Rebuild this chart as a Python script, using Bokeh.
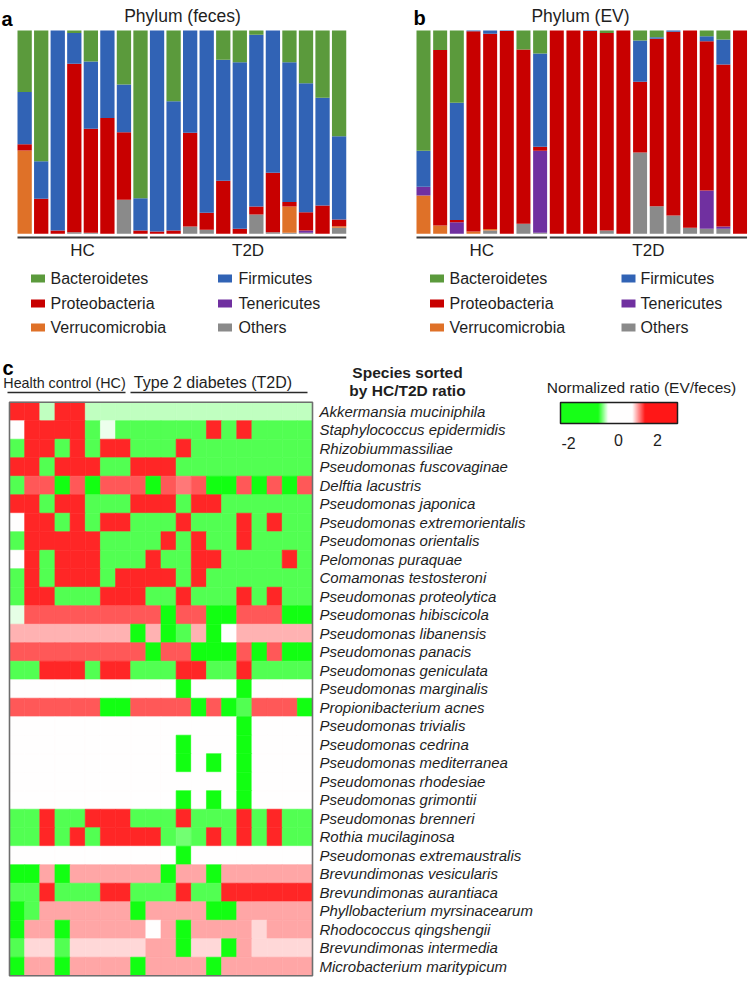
import numpy as np
from bokeh.plotting import figure
from bokeh.models import ColumnDataSource, Range1d, LinearColorMapper
from bokeh.transform import transform
from bokeh.layouts import column, row
from bokeh.embed import file_html
from bokeh.resources import INLINE
from bokeh.core.properties import value

FONT = "Liberation Sans"
TXT = "#1e1e1e"

# ---------------- data: phylum composition (a: feces, b: EV) ----------------
group_names = ["HC", "T2D"]
group_sizes = [8, 12]

legend_col1 = ["Bacteroidetes", "Proteobacteria", "Verrucomicrobia"]
legend_col2 = ["Firmicutes", "Tenericutes", "Others"]
stack_order = ["Others", "Verrucomicrobia", "Tenericutes", "Proteobacteria", "Firmicutes", "Bacteroidetes"]
phylum_colors = {"Bacteroidetes": "#5b9a3c", "Firmicutes": "#3163b5", "Proteobacteria": "#c80000",
                 "Tenericutes": "#7030a0", "Verrucomicrobia": "#df7128", "Others": "#8a8a8a"}

feces_bacteroidetes = [0.303, 0.643, 0, 0.012, 0.152, 0, 0.266, 0.825, 0, 0.348, 0, 0, 0.144, 0.156, 0.021, 0, 0.156, 0.259, 0.331, 0.521]
feces_firmicutes = [0.257, 0.185, 0.984, 0.152, 0.331, 0.43, 0.234, 0.159, 0.989, 0.636, 0.503, 0.896, 0.595, 0.82, 0.844, 0.70, 0.689, 0.634, 0.53, 0.41]
feces_proteobacteria = [0.03, 0.172, 0.016, 0.828, 0.512, 0.57, 0.333, 0.016, 0.011, 0.016, 0.461, 0.084, 0.261, 0.025, 0.039, 0.292, 0.021, 0.09, 0.139, 0.033]
feces_tenericutes = [0, 0, 0, 0, 0, 0, 0, 0, 0, 0, 0, 0, 0, 0, 0, 0, 0, 0.011, 0, 0]
feces_verrucomicrobia = [0.41, 0, 0, 0, 0, 0, 0, 0, 0, 0, 0, 0, 0, 0, 0, 0, 0.13, 0, 0, 0.007]
feces_others = [0, 0, 0, 0.008, 0.005, 0, 0.167, 0, 0, 0, 0.036, 0.02, 0, 0, 0.095, 0.008, 0.005, 0.005, 0, 0.03]

ev_bacteroidetes = [0.592, 0.096, 0.355, 0, 0, 0, 0.093, 0.113, 0, 0, 0, 0.012, 0, 0.049, 0.033, 0, 0, 0.028, 0.044, 0]
ev_firmicutes = [0.176, 0, 0.577, 0.004, 0.016, 0.003, 0, 0.459, 0, 0, 0.003, 0, 0, 0.203, 0.008, 0.006, 0, 0.025, 0.123, 0]
ev_proteobacteria = [0, 0.863, 0.011, 0.985, 0.961, 0.997, 0.858, 0.02, 1.0, 1.0, 0.997, 0.972, 1.0, 0.348, 0.824, 0.904, 0.97, 0.735, 0.797, 1.0]
ev_tenericutes = [0.044, 0, 0.057, 0, 0, 0, 0, 0.404, 0, 0, 0, 0, 0, 0, 0, 0, 0, 0.188, 0.011, 0]
ev_verrucomicrobia = [0.188, 0.041, 0, 0.011, 0.007, 0, 0, 0, 0, 0, 0, 0, 0, 0, 0, 0, 0, 0, 0, 0]
ev_others = [0, 0, 0, 0, 0.016, 0, 0.049, 0.005, 0, 0, 0, 0.016, 0, 0.40, 0.136, 0.09, 0.03, 0.025, 0.025, 0]

# ---------------- data: heatmap (normalized ratio EV/feces) ----------------
species = ["Akkermansia muciniphila", "Staphylococcus epidermidis", "Rhizobiummassiliae",
           "Pseudomonas fuscovaginae", "Delftia lacustris", "Pseudomonas japonica",
           "Pseudomonas extremorientalis", "Pseudomonas orientalis", "Pelomonas puraquae",
           "Comamonas testosteroni", "Pseudomonas proteolytica", "Pseudomonas hibiscicola",
           "Pseudomonas libanensis", "Pseudomonas panacis", "Pseudomonas geniculata",
           "Pseudomonas marginalis", "Propionibacterium acnes", "Pseudomonas trivialis",
           "Pseudomonas cedrina", "Pseudomonas mediterranea", "Pseudomonas rhodesiae",
           "Pseudomonas grimontii", "Pseudomonas brenneri", "Rothia mucilaginosa",
           "Pseudomonas extremaustralis", "Brevundimonas vesicularis", "Brevundimonas aurantiaca",
           "Phyllobacterium myrsinacearum", "Rhodococcus qingshengii", "Brevundimonas intermedia",
           "Microbacterium maritypicum"]

r00 = [1.7, 1.7, -0.5, 1.7, 1.7, -0.5, -0.5, -0.5, -0.5, -0.5, -0.5, -0.5, -0.5, -0.5, -0.5, -0.5, -0.5, -0.5, -0.5, -0.5]
r01 = [0, 1.7, 1.7, 1.7, 1.7, -1.35, -0.15, -1.35, -1.35, -1.35, -1.35, -1.35, -1.35, 1.7, -1.35, 1.7, -1.35, -1.35, -1.35, -1.35]
r02 = [-1.35, 1.7, 1.7, -1.35, 1.7, -1.35, 1.7, 1.7, -1.35, -1.35, -1.35, 1.7, -1.35, -1.35, -1.35, -1.35, -1.35, -1.35, -1.35, -1.35]
r03 = [1.7, 1.7, -1.35, 1.7, 1.7, 1.7, -1.35, -1.35, 1.7, 1.7, 1.7, -1.35, -1.35, -1.35, -1.35, -1.35, -1.35, -1.35, -1.35, -1.35]
r04 = [-1.35, 1.3, 1.3, -1.85, 1.3, -1.85, 1.3, 1.3, 1.3, -1.85, 1.3, 1.05, 1.3, -1.85, -1.85, 1.3, -1.85, 1.3, -1.85, 1.3]
r05 = [1.7, 1.7, -1.35, 1.7, 1.7, -1.35, -1.35, -1.35, 1.7, 1.7, 1.7, -1.35, 1.7, 1.7, -1.35, -1.35, -1.35, -1.35, -1.35, -1.35]
r06 = [0, 1.7, 1.7, -1.35, 1.7, -1.35, 1.7, 1.7, -1.35, -1.35, -1.35, 1.7, -1.35, -1.35, -1.35, 1.7, -1.35, 1.7, -1.35, -1.35]
r07 = [-1.35, 1.7, 1.7, 1.7, 1.7, 1.7, -1.35, -1.35, -1.35, -1.35, 1.7, -1.35, 1.7, -1.35, -1.35, 1.7, -1.35, -1.35, -1.35, -1.35]
r08 = [0, 1.7, -1.35, 1.7, 1.7, 1.7, -1.35, -1.35, -1.35, 1.7, -1.35, -1.35, 1.7, 1.7, -1.35, -1.35, -1.35, -1.35, 1.7, -1.35]
r09 = [-1.35, 1.7, -1.35, 1.7, 1.7, 1.7, -1.35, 1.7, 1.7, 1.7, 1.7, -1.35, 1.7, -1.35, -1.35, -1.35, -1.35, -1.35, -1.35, -1.35]
r10 = [-1.35, 1.7, 1.7, -1.35, -1.35, -1.35, 1.7, 1.7, 1.7, -1.35, -1.35, 1.7, -1.35, -1.35, -1.35, 1.7, -1.35, 1.7, -1.35, -1.35]
r11 = [-0.2, 1.3, 1.3, 1.3, 1.3, 1.3, 1.3, 1.3, 1.3, 1.3, -1.85, 1.3, 1.3, -1.85, -1.85, 1.3, 1.3, 1.3, -1.85, -1.85]
r12 = [0.6, 0.6, 0.6, 0.6, 0.6, 0.6, 0.6, 0.6, -1.85, 0.6, -1.85, -1.35, 0.6, -1.85, 0, 0.6, 0.6, 0.6, 0.6, 0.6]
r13 = [1.3, 1.3, 1.3, 1.3, 1.3, 1.3, 1.3, 1.3, 1.3, -1.85, 1.3, 1.3, -1.85, -1.85, -1.85, 1.3, -1.85, 1.3, -1.85, -1.85]
r14 = [-1.35, -1.35, 1.7, 1.7, 1.7, -1.35, 1.7, 1.7, -1.35, -1.35, -1.35, 1.7, 1.7, -1.35, -1.35, 1.7, -1.35, -1.35, -1.35, -1.35]
r15 = [0, 0, 0, 0, 0, 0, 0, 0, 0, 0, 0, -1.85, 0, 0, 0, -1.85, 0, 0, 0, 0]
r16 = [1.3, 1.3, 1.3, 1.3, 1.3, 1.3, -1.85, -1.85, 1.3, 1.3, 1.3, 1.3, -1.85, 1.3, -1.85, -1.35, 1.3, 1.3, 1.3, -1.85]
r17 = [0, 0, 0, 0, 0, 0, 0, 0, 0, 0, 0, 0, 0, 0, 0, -1.85, 0, 0, 0, 0]
r18 = [0, 0, 0, 0, 0, 0, 0, 0, 0, 0, 0, -1.85, 0, 0, 0, -1.85, 0, 0, 0, 0]
r19 = [0, 0, 0, 0, 0, 0, 0, 0, 0, 0, 0, -1.85, 0, -1.85, 0, -1.85, 0, 0, 0, 0]
r20 = [0, 0, 0, 0, 0, 0, 0, 0, 0, 0, 0, 0, 0, 0, 0, -1.85, 0, 0, 0, 0]
r21 = [0, 0, 0, 0, 0, 0, 0, 0, 0, 0, 0, -1.85, 0, -1.85, 0, -1.85, 0, 0, 0, 0]
r22 = [-1.35, -1.35, 1.7, -1.35, -1.35, 1.7, 1.7, 1.7, -1.35, -1.35, -1.35, 1.7, -1.35, -1.35, -1.35, 1.7, -1.35, 1.7, -1.35, -1.35]
r23 = [-1.35, -1.35, 1.7, -1.35, 1.7, -1.35, 1.7, 1.7, 1.7, 1.7, -1.35, -1.1, -1.35, 1.7, -1.35, 1.7, -1.35, 1.7, -1.35, -1.35]
r24 = [0, 0, 0, 0, 0, 0, 0, 0, 0, 0, 0, -1.85, 0, 0, 0, 0, 0, 0, 0, 0]
r25 = [-1.85, -1.85, 0.7, -1.85, 0.7, 0.7, 0.7, 0.7, 0.7, 0.7, -1.85, 0.7, 0.7, -1.85, 0.7, 0.7, 0.7, 0.7, 0.7, 0.7]
r26 = [-1.35, -1.35, 1.7, -1.35, -1.35, -1.35, 1.7, 1.7, -1.35, -1.35, -1.35, 1.7, -1.35, -1.35, 1.7, 1.7, 1.7, 1.7, 1.7, 1.7]
r27 = [-1.85, -1.35, 0.7, 0.7, 0.7, 0.7, 0.7, 0.7, -1.85, 0.7, 0.7, 0.7, 0.7, -1.85, -1.85, 0.7, 0.7, 0.7, 0.7, 0.7]
r28 = [-1.85, 0.7, 0.7, -1.85, 0.7, 0.7, 0.7, 0.7, 0.7, 0, 0.7, -1.85, 0.7, 0.7, 0.7, 0.7, 0.3, 0.7, 0.7, 0.7]
r29 = [-1.35, 0.3, 0.3, -1.35, 0.3, 0.3, 0.3, 0.3, 0.3, 0.7, 0.7, -1.85, 0.3, 0.3, -1.85, 0.7, 0.3, 0.3, 0.3, 0.3]
r30 = [-1.85, 0.7, 0.7, -1.85, 0.7, 0.7, 0.7, 0.7, -1.85, 0.7, 0.7, 0.7, 0.7, -1.85, 0.7, 0.7, 0.7, 0.7, 0.7, 0.7]
ratio_rows = [r00, r01, r02, r03, r04, r05, r06, r07, r08, r09, r10, r11, r12, r13, r14, r15,
              r16, r17, r18, r19, r20, r21, r22, r23, r24, r25, r26, r27, r28, r29, r30]

colorbar_ticks = ["-2", "0", "2"]

# ---------------- colour mapper (green - white - red) ----------------
palette = []
for k in range(256):
    t = k / 255 * 2 - 1
    if t < 0:
        c = int(round(255 * (1 + t)))
        palette.append("#%02x%02x%02x" % (c, 255, c))
    else:
        c = int(round(255 * (1 - t)))
        palette.append("#%02x%02x%02x" % (255, c, c))
mapper = LinearColorMapper(palette=palette, low=-2, high=2)


def txt(p, x, y, s, size="16px", align="left", base="middle", style="normal", color=TXT):
    p.text(x=[x], y=[y], text=[s], text_font=value(FONT), text_font_size=size, text_align=align,
           text_baseline=base, text_font_style=style, text_color=color)


def phylum_panel(letter, title, series, ox, c0_ref, pitch, bar_w, title_x, letter_x, letter_y,
                 sq_x, tx_x):
    # all positions below are page pixels; ox = left page pixel of this figure
    W, H = 374, 340
    yb, yt = 233.3, 30.0          # page px of 0 and 1
    s = yb - yt
    X = lambda rx: (rx - c0_ref) / pitch
    Y = lambda ry: (yb - ry) / s
    p = figure(width=W, height=H, x_range=Range1d(X(ox), X(ox + W)), y_range=Range1d(Y(H), Y(0)),
               toolbar_location=None, output_backend="svg", min_border=0,
               x_axis_type=None, y_axis_type=None, outline_line_color=None)
    n = len(series["Bacteroidetes"])
    tot = [sum(series[k][i] for k in stack_order) for i in range(n)]
    data = {"x": list(range(n))}
    for k in stack_order:
        data[k] = [series[k][i] / tot[i] for i in range(n)]
    src = ColumnDataSource(data)
    p.vbar_stack(stack_order, x="x", width=bar_w / pitch, source=src,
                 fill_color=[phylum_colors[k] for k in stack_order], line_color=None)
    # group lines and labels
    start = 0
    hw = bar_w / pitch / 2
    for g, size in zip(group_names, group_sizes):
        a, b = start - hw, start + size - 1 + hw
        p.segment(x0=[a], x1=[b], y0=[Y(237)], y1=[Y(237)], line_color="#3a3a3a", line_width=2)
        txt(p, (a + b) / 2, Y(249.5), g, size="17px", align="center")
        start += size
    txt(p, X(title_x), Y(15.5), title, size="17.5px", align="center")
    txt(p, X(letter_x), Y(letter_y), letter, size="20px", base="alphabetic", style="bold", color="#000000")
    # legend
    rows_y = [278, 303, 327]
    for col, (sx, tx) in zip([legend_col1, legend_col2], zip(sq_x, tx_x)):
        for name, ry in zip(col, rows_y):
            p.rect(x=[X(sx)], y=[Y(ry)], width=14, height=8, width_units="screen", height_units="screen",
                   fill_color=phylum_colors[name], line_color=None)
            txt(p, X(tx), Y(ry), name, size="16px")
    return p


feces = {"Bacteroidetes": feces_bacteroidetes, "Firmicutes": feces_firmicutes,
         "Proteobacteria": feces_proteobacteria, "Tenericutes": feces_tenericutes,
         "Verrucomicrobia": feces_verrucomicrobia, "Others": feces_others}
ev = {"Bacteroidetes": ev_bacteroidetes, "Firmicutes": ev_firmicutes,
      "Proteobacteria": ev_proteobacteria, "Tenericutes": ev_tenericutes,
      "Verrucomicrobia": ev_verrucomicrobia, "Others": ev_others}

pa = phylum_panel("a", "Phylum (feces)", feces, 0, 24.15, 16.55, 14.3, 182, 1, 18,
                  (37.5, 224.5), (50, 238))
pb = phylum_panel("b", "Phylum (EV)", ev, 374, 423.0, 16.66, 14.0, 580, 413, 17,
                  (436.5, 628), (449, 640))

# ---------------- panel c: heatmap ----------------
WC, HC_ = 748, 642
oy = 340                 # page y of this figure's top
hx0, hy0 = 9.0, 401.7    # page px of heatmap top-left
cw, ch = 15.15, 18.5
Xc = lambda rx: (rx - hx0) / cw
Yc = lambda ry: (ry - hy0) / ch
pc = figure(width=WC, height=HC_, x_range=Range1d(Xc(0), Xc(WC)), y_range=Range1d(Yc(oy + HC_), Yc(oy)),
            toolbar_location=None, output_backend="svg", min_border=0,
            x_axis_type=None, y_axis_type=None, outline_line_color=None)

xs, ys, vs = [], [], []
for i, rv in enumerate(ratio_rows):
    for j, v in enumerate(rv):
        xs.append(j + 0.5)
        ys.append(i + 0.5)
        vs.append(v)
hsrc = ColumnDataSource(dict(x=xs, y=ys, v=vs))
pc.rect(x="x", y="y", width=1, height=1, source=hsrc, fill_color=transform("v", mapper),
        line_color=transform("v", mapper), line_width=0.6)
ncol = len(ratio_rows[0])
nrow = len(ratio_rows)
pc.rect(x=[ncol / 2], y=[nrow / 2], width=ncol, height=nrow, fill_color=None, line_color="#6e6e6e", line_width=1.6)

# species labels
pc.text(x=[Xc(319)] * nrow, y=[i + 0.5 for i in range(nrow)], text=species, text_font=value(FONT),
        text_font_size="15px", text_font_style="italic", text_baseline="middle", text_align="left",
        text_color=TXT)

# group headers
txt(pc, Xc(2), Yc(367), "c", size="20px", base="alphabetic", style="bold", color="#000000")
txt(pc, Xc(64), Yc(382), "Health control (HC)", size="14.3px", align="center")
txt(pc, Xc(212.5), Yc(382), "Type 2 diabetes (T2D)", size="16px", align="center")
pc.segment(x0=[Xc(7), Xc(130)], x1=[Xc(125), Xc(307)], y0=[Yc(392)] * 2, y1=[Yc(392)] * 2,
           line_color="#2a2a2a", line_width=1.5)
txt(pc, Xc(407), Yc(372), "Species sorted", size="15.5px", align="center", style="bold")
txt(pc, Xc(407), Yc(390), "by HC/T2D ratio", size="15.5px", align="center", style="bold")

# colour key
txt(pc, Xc(641), Yc(387), "Normalized ratio (EV/feces)", size="15.5px", align="center")
bar_px = np.arange(560, 677)
bar_vals = np.interp(bar_px + 0.5, [560, 598, 608, 632, 645, 677], [-2, -2, 0, 0, 2, 2])
csrc = ColumnDataSource(dict(x=[Xc(px + 0.5) for px in bar_px], y=[Yc(412.5)] * len(bar_px), v=list(bar_vals)))
pc.rect(x="x", y="y", width=1.4 / cw, height=21 / ch, source=csrc, fill_color=transform("v", mapper),
        line_color=None)
pc.rect(x=[Xc(618.5)], y=[Yc(412.5)], width=117 / cw, height=21 / ch, fill_color=None,
        line_color="#1e1e1e", line_width=1.5)
for lab, rx, ry in zip(colorbar_ticks, [568, 618, 657], [442, 439, 439]):
    txt(pc, Xc(rx), Yc(ry), lab, size="16px", align="center")

layout = column(row(pa, pb), pc)
open("out.html", "w").write(file_html(layout, INLINE))
